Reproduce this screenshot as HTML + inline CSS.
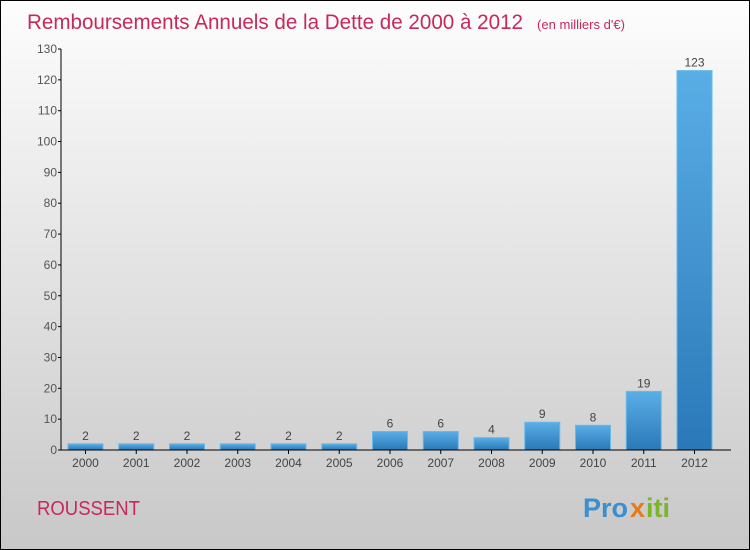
<!DOCTYPE html>
<html><head><meta charset="utf-8"><style>
body{margin:0}
#wrap{position:relative;width:748px;height:548px;border:1px solid #000;background:linear-gradient(#fdfdfd,#c8c8c8);font-family:"Liberation Sans",sans-serif;overflow:hidden}
</style></head><body>
<div id="wrap">
<svg id="c" width="748" height="548">
<text x="26" y="28" font-size="21" fill="#c8285a" textLength="496" lengthAdjust="spacingAndGlyphs">Remboursements Annuels de la Dette de 2000 à 2012</text>
<text x="536" y="28" font-size="13" fill="#c8285a" textLength="88" lengthAdjust="spacingAndGlyphs">(en milliers d'€)</text>
<text x="36" y="514" font-size="20" fill="#c8285a" textLength="103" lengthAdjust="spacingAndGlyphs">ROUSSENT</text>
<g font-size="27" font-weight="bold">
<text x="582" y="516" fill="#3a8fd0">Pro</text><text x="629" y="516" fill="#e87a1a">x</text><text x="645" y="516" fill="#7ab52a">iti</text>
</g>
<g id="g"></g>
</svg></div>
<script>
const years=["2000","2001","2002","2003","2004","2005","2006","2007","2008","2009","2010","2011","2012"];
const values=[2,2,2,2,2,2,6,6,4,9,8,19,123];
const yTicks=[0,10,20,30,40,50,60,70,80,90,100,110,120,130];
const NS="http://www.w3.org/2000/svg",g=document.getElementById('g');
const y0=449,yTop=48,ax=60;
const y=v=>y0-(y0-yTop)*v/130;
const x=i=>67+i*50.75;
function mk(t,a){const e=document.createElementNS(NS,t);for(const k in a)e.setAttribute(k,a[k]);g.appendChild(e);return e;}
const defs=mk('defs',{});
defs.innerHTML='<linearGradient id="bg" x1="0" y1="0" x2="0" y2="1"><stop offset="0" stop-color="#5aaee6"/><stop offset="1" stop-color="#2a78b8"/></linearGradient>';
values.forEach((v,i)=>{
 const r=mk('rect',{x:x(i),y:y(v),width:35,height:y0-y(v),fill:'url(#bg)',stroke:'#6ab8ec','stroke-width':1});
 
 
 const t=mk('text',{x:x(i)+17.5,y:y(v)-4,'font-size':12,fill:'#444','text-anchor':'middle'});t.textContent=v;
 
 
 const l=mk('text',{x:x(i)+17.5,y:466,'font-size':12,fill:'#444','text-anchor':'middle'});l.textContent=years[i];
 
 
 mk('line',{x1:x(i)+17.5,x2:x(i)+17.5,y1:y0,y2:y0+4,stroke:'#000'});
});
yTicks.forEach(v=>{
 mk('line',{x1:ax-3,x2:ax,y1:y(v),y2:y(v),stroke:'#000'});
 const t=mk('text',{x:ax-4,y:y(v)+4,'font-size':12,fill:'#555','text-anchor':'end'});t.textContent=v;
 
 
});
const ya=mk('line',{x1:ax,x2:ax,y1:yTop,y2:y0,stroke:'#000'});


const xa=mk('line',{x1:ax,x2:730,y1:y0,y2:y0,stroke:'#000'});


</script>
</body></html>
